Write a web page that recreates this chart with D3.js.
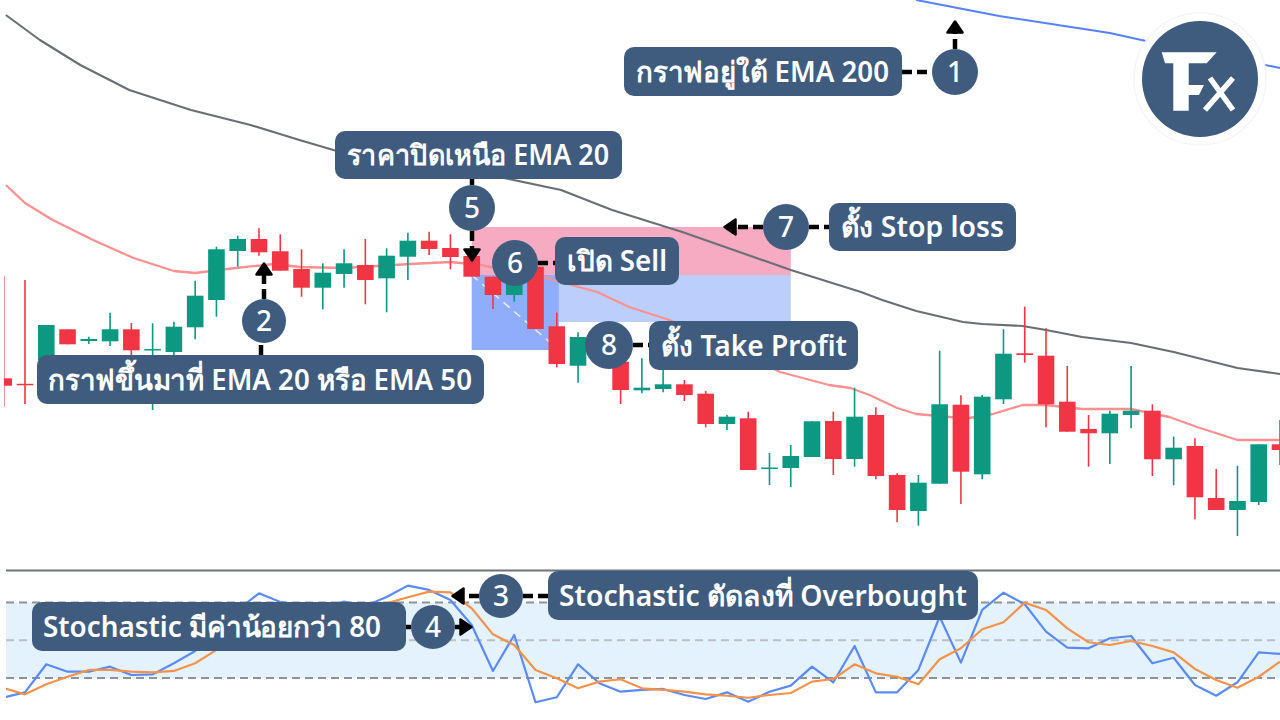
<!DOCTYPE html>
<html>
<head>
<meta charset="utf-8">
<script src="https://cdn.jsdelivr.net/npm/d3@7"></script>
<style>
    html, body { margin: 0; padding: 0; background: #fff; }
    svg { display: block; }
    text { font-family: "Noto Sans", "Open Sans", sans-serif; }
</style>
</head>
<body>
<div id="chart"></div>
<script>
// candles, first one is bar -1 and gets cut by the left edge
var firstBar = -1;
var opens = [191.7,186.2,210,240.7,229,228.7,240.7,220,218,242.7,270,319,331,318.7,301,282.3,296,305,291.7,313.3,329.3,322,314,293.3,275,303.3,243.7,204.3,225,208.3,179.7,181,185.7,176.3,146,151.7,101.5,102,113,149,111,155,95,59,86.3,165.3,95.7,170.7,216.7,214.3,168.3,141,136.7,155,159.3,110.7,124,72,60,68,125.7];
var highs = [294.3,290,245,240.7,233.3,257.3,247,246.7,248.3,289.3,323.3,334.3,341.7,335.7,320.7,306.7,320.7,331,321.7,337.3,338.3,335.7,320,293.3,287,308,257.3,237.7,228,212,211.7,200,190,179,155,158.3,117,125,148.7,158.3,182.3,162.7,96.7,95,219.3,174.7,175,240.7,263.3,241.7,204,155,159.3,204,165.7,133.3,131.7,101,104.3,125.7,150];
var lows = [163.3,166,210,225.7,226,224,210,160,212,230.7,253.3,303.3,314.3,299.3,273.3,260.7,282.3,265.7,257.7,290,315,300.7,293.3,261,268.3,241,202.7,187.3,208,166,176.7,177.7,169,142.7,140,100,85,83,113,95,103.3,90.7,47.7,44.3,86.3,66,90.7,166,207.3,142.7,138.3,103.3,106,141.7,94,84.7,50.7,60,34,65,105];
var closes = [184.3,185,245,225.7,231,240.7,219.7,221,243.3,274.3,320.7,331,317.7,299.3,282.3,297.3,306.7,290,314.3,329.3,321,313,293.3,275,287,241,206,233,210,180,182.3,185.7,175,146,153.3,100,102.5,114,148.7,111,153.3,94,60,87.3,165.7,98.3,173.3,216.3,215,165.7,138.3,136.7,156.3,159.3,110.7,122.3,72.7,60,69,125.7,120];

var ema20Bars = [-0.9,0,1.3,3.2,5.1,7,8,9.5,11.7,12.9,15,18.1,20,21.4,24.5,26.9,28.4,30.3,35.5,37.8,38.8,39.7,41,41.9,43.5,44.4,45.5,46.9,48,49.7,52,53.8,55.1,57,59];
var ema20Values = [385,367,350,330,312,299,297,301,306,303,302,306,308,305,292,278,263,250,198,185,182,175,162,156,153,152,156,165,165,161,161,153,143,130,130];
var ema50Bars = [-0.9,0.7,2.6,4.9,7.8,10.6,12.9,15.3,18.6,22.3,25.2,27.6,30.9,36,39.3,40.3,41.9,44.1,45,46.9,48,49.7,52,54,57,59];
var ema50Values = [555,530,505,480,460,445,430,415,402,393,380,360,338,300,278,270,259,248,246,244,240,233,227,218,202,196];
var ema200Bars = [41.9,45.8,51,52.7,58.3,59];
var ema200Values = [570,554,537,529,505,502];

// stochastic, same bars as the candles
var stochK = [4.5,8.6,30.9,25,25,29,22.4,22.9,31.7,41.5,58.2,74.1,87.3,80.4,78,76.4,80.7,77.2,84.4,93.4,90,82,62.1,25.6,54.2,0.7,4.7,30.9,15.8,9.1,10.5,11.3,6.5,3.3,8.6,1.2,9.1,13.9,29,16.6,45.4,8.6,8.6,26.4,68.7,32.2,74.1,87.8,78.6,56.8,44.1,43.6,51.6,53.4,31.7,36.1,14.4,5.9,16.6,40.4,39.1];
var stochD = [12,7,15,21,26.4,26.4,25,24.5,25.6,31.7,42.3,55,66.9,75.7,77.2,78,77.2,77.2,79.4,84.2,88.6,88.1,75.4,54.7,46.2,26.4,19.8,11.8,17.1,19,11.8,10.5,9.1,7,5.9,4.3,6.5,8.1,17.1,19.2,30.9,23.7,21,15,34.9,43.6,58.7,64.3,79.9,74.1,59.5,48.4,46.2,49.4,45.4,40.4,27.2,18.4,12.3,21,33];
var stochLevels = [80, 50, 20];

// long position tool: bar range and price levels
var tradeStartBar = 21;
var tradeSplitBar = 25.1;
var tradeEndBar = 36;
var stopPrice = 343;
var entryPrice = 295;
var profitPrice = 248;
var profitPriceLight = 220;

var labels = ['กราฟอยู่ใต้ EMA 200', 'กราฟขึ้นมาที่ EMA 20 หรือ EMA 50', 'Stochastic ตัดลงที่ Overbought', 'Stochastic มีค่าน้อยกว่า 80', 'ราคาปิดเหนือ EMA 20', 'เปิด Sell', 'ตั้ง Stop loss', 'ตั้ง Take Profit'];
var steps = ['1', '2', '3', '4', '5', '6', '7', '8'];

var navy = '#3f5c7f', red = '#f23645', green = '#089981';
var width = 1280, height = 720;

var svg = d3.select('#chart').append('svg')
    .attr('width', width).attr('height', height)
    .attr('viewBox', '0 0 ' + width + ' ' + height);

var x = d3.scaleLinear().domain([0, 59]).range([25, 1280]);
var y = d3.scaleLinear().domain([0, 570]).range([570, 0]);
var yStoch = d3.scaleLinear().domain([20, 80]).range([678, 602.5]);

svg.append('defs').append('clipPath').attr('id', 'plot')
    .append('rect').attr('x', 4).attr('y', 0).attr('width', 1276).attr('height', 570);

var soft = svg.append('defs').append('filter').attr('id', 'soft');
soft.append('feGaussianBlur').attr('stdDeviation', 0.45);

var plot = svg.append('g').attr('clip-path', 'url(#plot)').attr('filter', 'url(#soft)');

// position tool first, everything else sits on top of it
plot.append('rect').attr('x', x(tradeStartBar)).attr('y', y(stopPrice))
    .attr('width', x(tradeEndBar) - x(tradeStartBar)).attr('height', y(entryPrice) - y(stopPrice))
    .attr('fill', '#f7abc2');
plot.append('rect').attr('x', x(tradeSplitBar)).attr('y', y(entryPrice))
    .attr('width', x(tradeEndBar) - x(tradeSplitBar)).attr('height', y(profitPrice) - y(entryPrice))
    .attr('fill', '#bccffc');
plot.append('rect').attr('x', x(tradeStartBar)).attr('y', y(entryPrice))
    .attr('width', x(tradeSplitBar) - x(tradeStartBar)).attr('height', y(profitPriceLight) - y(entryPrice))
    .attr('fill', '#8fadfb');
plot.append('line')
    .attr('x1', x(tradeStartBar)).attr('y1', y(entryPrice))
    .attr('x2', x(tradeSplitBar)).attr('y2', y(profitPriceLight))
    .attr('stroke', '#e8eefe').attr('stroke-width', 1.5).attr('stroke-dasharray', '8 6');

function drawLine(parent, bars, values, scale, color, lineWidth) {
    var line = d3.line()
        .x(function(d, i) { return x(bars[i]); })
        .y(function(d) { return scale(d); });
    parent.append('path').datum(values)
        .attr('d', line).attr('fill', 'none')
        .attr('stroke', color).attr('stroke-width', lineWidth)
        .attr('stroke-linejoin', 'round');
}

drawLine(plot, ema200Bars, ema200Values, y, '#5580ff', 2);
drawLine(plot, ema50Bars, ema50Values, y, '#6b6e75', 2.1);
drawLine(plot, ema20Bars, ema20Values, y, '#fb9090', 2.3);

var bars = d3.range(opens.length).map(function(i) { return firstBar + i; });
var candle = plot.selectAll('g.candle').data(bars).enter().append('g').attr('class', 'candle');

function candleColor(bar) {
    var i = bar - firstBar;
    return closes[i] >= opens[i] ? green : red;
}

candle.append('line')
    .attr('x1', function(d) { return x(d); })
    .attr('x2', function(d) { return x(d); })
    .attr('y1', function(d) { return y(highs[d - firstBar]); })
    .attr('y2', function(d) { return y(lows[d - firstBar]); })
    .attr('stroke', candleColor).attr('stroke-width', 1.6);

candle.append('rect')
    .attr('x', function(d) { return x(d) - 8.3; })
    .attr('width', 16.6)
    .attr('y', function(d) { return y(Math.max(opens[d - firstBar], closes[d - firstBar])); })
    .attr('height', function(d) { return Math.max(1.5, Math.abs(y(opens[d - firstBar]) - y(closes[d - firstBar]))); })
    .attr('fill', candleColor);

// stochastic panel
svg.append('line').attr('x1', 6).attr('x2', width).attr('y1', 570.5).attr('y2', 570.5)
    .attr('stroke', '#6f7279').attr('stroke-width', 1.8);
svg.append('rect').attr('x', 6).attr('y', yStoch(80))
    .attr('width', width - 6).attr('height', yStoch(20) - yStoch(80))
    .attr('fill', '#e4f2fd');

svg.selectAll('line.level').data(stochLevels).enter().append('line')
    .attr('class', 'level')
    .attr('x1', 6).attr('x2', width)
    .attr('y1', function(d) { return yStoch(d); })
    .attr('y2', function(d) { return yStoch(d); })
    .attr('stroke', function(d) { return d === 50 ? '#bcbfc4' : '#909298'; })
    .attr('stroke-width', 1.8).attr('stroke-dasharray', '8 5');

var stochPlot = svg.append('g').attr('clip-path', 'url(#stochClip)').attr('filter', 'url(#soft)');
svg.select('defs').append('clipPath').attr('id', 'stochClip')
    .append('rect').attr('x', 6).attr('y', 571).attr('width', 1274).attr('height', 149);
drawLine(stochPlot, bars, stochK, yStoch, '#5a8bf5', 2.2);
drawLine(stochPlot, bars, stochD, yStoch, '#f5924a', 2.2);

// callouts: label box, numbered circle, connector pieces
var boxes = [
    {x: 624, y: 47, w: 278, h: 49},
    {x: 37, y: 355, w: 447, h: 49},
    {x: 548, y: 571, w: 430, h: 49},
    {x: 32, y: 602, w: 374, h: 49},
    {x: 335, y: 131, w: 287, h: 48},
    {x: 555, y: 237, w: 124, h: 48},
    {x: 829, y: 203, w: 187, h: 48},
    {x: 649, y: 321, w: 209, h: 49}
];
// where each label text starts and how wide it runs
var textSpans = [
    {x: 636, w: 253},
    {x: 48, w: 424},
    {x: 559, w: 408},
    {x: 43, w: 338},
    {x: 347, w: 262},
    {x: 567, w: 100},
    {x: 841, w: 163},
    {x: 661, w: 186}
];
var circles = [
    {x: 955, y: 72, r: 23},
    {x: 264, y: 321, r: 22},
    {x: 501, y: 596, r: 22},
    {x: 433, y: 627, r: 22},
    {x: 472, y: 208, r: 23},
    {x: 515, y: 263, r: 23},
    {x: 786, y: 227, r: 23},
    {x: 609, y: 345, r: 24}
];
var connectors = [
    [902, 72, 932, 72], [955, 49, 955, 33],
    [261, 355, 261, 343], [264, 299, 264, 273],
    [523, 596, 548, 596], [479, 596, 463, 596],
    [406, 627, 411, 627], [455, 627, 461, 627],
    [472, 179, 472, 185], [472, 231, 472, 250],
    [538, 263, 555, 263],
    [809, 227, 829, 227], [763, 227, 735, 227],
    [633, 345, 649, 345]
];
// tip x, tip y and the direction it points to
var heads = [
    {x: 955, y: 20, a: 0},
    {x: 264, y: 262, a: 0},
    {x: 451, y: 596, a: -90},
    {x: 473, y: 627, a: 90},
    {x: 472, y: 262, a: 180},
    {x: 723, y: 227, a: -90}
];

svg.selectAll('line.connector').data(connectors).enter().append('line')
    .attr('class', 'connector')
    .attr('x1', function(d) { return d[0]; }).attr('y1', function(d) { return d[1]; })
    .attr('x2', function(d) { return d[2]; }).attr('y2', function(d) { return d[3]; })
    .attr('stroke', '#000').attr('stroke-width', 4.5).attr('stroke-dasharray', '10 5');

svg.selectAll('path.head').data(heads).enter().append('path')
    .attr('class', 'head')
    .attr('d', 'M0,1.5 L7.5,12.5 L-7.5,12.5 Z')
    .attr('transform', function(d) { return 'translate(' + d.x + ',' + d.y + ') rotate(' + d.a + ')'; })
    .attr('fill', '#000').attr('stroke', '#000').attr('stroke-width', 2.5).attr('stroke-linejoin', 'round');

svg.selectAll('rect.box').data(boxes).enter().append('rect')
    .attr('class', 'box')
    .attr('x', function(d) { return d.x; }).attr('y', function(d) { return d.y; })
    .attr('width', function(d) { return d.w; }).attr('height', function(d) { return d.h; })
    .attr('rx', 10).attr('fill', navy);

svg.selectAll('text.label').data(labels).enter().append('text')
    .attr('class', 'label')
    .attr('x', function(d, i) { return textSpans[i].x; })
    .attr('y', function(d, i) { return boxes[i].y + boxes[i].h / 2 + 10; })
    .attr('textLength', function(d, i) { return textSpans[i].w; })
    .attr('lengthAdjust', 'spacingAndGlyphs')
    .attr('font-size', 28).attr('font-weight', 600).attr('fill', '#fff')
    .text(function(d) { return d; });

svg.selectAll('circle.step').data(circles).enter().append('circle')
    .attr('class', 'step')
    .attr('cx', function(d) { return d.x; }).attr('cy', function(d) { return d.y; })
    .attr('r', function(d) { return d.r; }).attr('fill', navy);

svg.selectAll('text.stepnum').data(steps).enter().append('text')
    .attr('class', 'stepnum')
    .attr('x', function(d, i) { return circles[i].x; })
    .attr('y', function(d, i) { return circles[i].y + 10; })
    .attr('text-anchor', 'middle')
    .attr('font-size', 28).attr('font-weight', 500).attr('fill', '#fff')
    .text(function(d) { return d; });

// logo
var logo = svg.append('g');
logo.append('circle').attr('cx', 1200).attr('cy', 79).attr('r', 66)
    .attr('fill', '#fff').attr('stroke', '#f5f5f5').attr('stroke-width', 1.5);
logo.append('circle').attr('cx', 1200).attr('cy', 79).attr('r', 58).attr('fill', navy);
logo.append('path')
    .attr('d', 'M1161.7,52.3 L1216.7,52.3 L1206.7,63.3 L1188.7,63.3 L1188.7,85 L1204,85 L1199,95 L1188.7,95 L1188.7,110.7 L1173.3,110.7 L1173.3,63.3 L1165,63.3 Z')
    .attr('fill', '#fff');
logo.append('path')
    .attr('d', 'M1205,110 L1233,78 M1210,78 L1233,110')
    .attr('stroke', '#fff').attr('stroke-width', 5.5).attr('fill', 'none');
</script>
</body>
</html>
